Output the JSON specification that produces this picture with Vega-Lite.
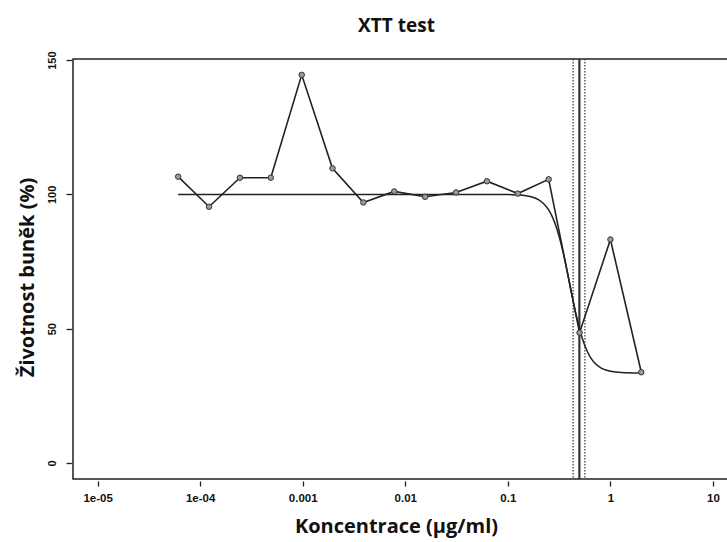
{
  "$schema": "https://vega.github.io/schema/vega-lite/v6.json",
  "autosize": {"type": "none"},
  "width": 655,
  "height": 420,
  "padding": {"left": 73, "top": 59, "right": -1, "bottom": 63},
  "background": "white",
  "title": {
    "text": "XTT test",
    "font": "Open Sans",
    "fontSize": 19,
    "fontWeight": "bold",
    "color": "#111",
    "anchor": "middle",
    "frame": "group",
    "baseline": "alphabetic",
    "offset": 0,
    "dx": -4
  },
  "config": {
    "view": {"stroke": "#222", "strokeWidth": 1.5}
  },
  "datasets": {
    "obs": [
      {"conc": 0.000061, "v": 106.6},
      {"conc": 0.000122, "v": 95.4},
      {"conc": 0.000244, "v": 106.2},
      {"conc": 0.000488, "v": 106.2},
      {"conc": 0.000977, "v": 144.5},
      {"conc": 0.00195, "v": 109.7},
      {"conc": 0.0039, "v": 97.0},
      {"conc": 0.0078, "v": 101.1},
      {"conc": 0.0156, "v": 99.1},
      {"conc": 0.03125, "v": 100.7},
      {"conc": 0.0625, "v": 104.9},
      {"conc": 0.125, "v": 100.3},
      {"conc": 0.25, "v": 105.6},
      {"conc": 0.5, "v": 48.5},
      {"conc": 1, "v": 83.2},
      {"conc": 2, "v": 33.8}
    ],
    "fit": [
      {"conc": 0.000061, "v": 100.0},
      {"conc": 0.001, "v": 100.0},
      {"conc": 0.01, "v": 100.0},
      {"conc": 0.05, "v": 99.99},
      {"conc": 0.1, "v": 99.93},
      {"conc": 0.125, "v": 99.8},
      {"conc": 0.15, "v": 99.51},
      {"conc": 0.175, "v": 98.95},
      {"conc": 0.2, "v": 97.98},
      {"conc": 0.225, "v": 96.46},
      {"conc": 0.25, "v": 94.21},
      {"conc": 0.275, "v": 91.15},
      {"conc": 0.3, "v": 87.24},
      {"conc": 0.325, "v": 82.62},
      {"conc": 0.35, "v": 77.46},
      {"conc": 0.375, "v": 72.07},
      {"conc": 0.4, "v": 66.75},
      {"conc": 0.425, "v": 61.75},
      {"conc": 0.45, "v": 57.23},
      {"conc": 0.475, "v": 53.29},
      {"conc": 0.5, "v": 49.91},
      {"conc": 0.55, "v": 44.74},
      {"conc": 0.6, "v": 41.24},
      {"conc": 0.65, "v": 38.89},
      {"conc": 0.7, "v": 37.32},
      {"conc": 0.8, "v": 35.52},
      {"conc": 0.9, "v": 34.63},
      {"conc": 1.0, "v": 34.17},
      {"conc": 1.2, "v": 33.77},
      {"conc": 1.4, "v": 33.63},
      {"conc": 1.7, "v": 33.55},
      {"conc": 2.0, "v": 33.52}
    ],
    "ec": [
      {"conc": 0.433, "kind": "ci"},
      {"conc": 0.498, "kind": "ec50"},
      {"conc": 0.564, "kind": "ci"}
    ]
  },
  "encoding": {
    "x": {
      "field": "conc",
      "type": "quantitative",
      "scale": {"type": "log", "domain": [0.000005754, 14.01], "nice": false},
      "axis": {
        "title": "Koncentrace (µg/ml)",
        "values": [0.00001, 0.0001, 0.001, 0.01, 0.1, 1, 10],
        "labelExpr": "datum.value < 5e-5 ? '1e-05' : datum.value < 5e-4 ? '1e-04' : datum.value < 5e-3 ? '0.001' : datum.value < 0.05 ? '0.01' : datum.value < 0.5 ? '0.1' : datum.value < 5 ? '1' : '10'",
        "grid": false,
        "domain": false,
        "ticks": true,
        "tickColor": "#222",
        "tickWidth": 1.3,
        "tickSize": 5,
        "offset": 2,
        "labelFont": "Liberation Sans",
        "labelFontSize": 11.5,
        "labelFontWeight": "bold",
        "labelColor": "#111",
        "labelPadding": 6,
        "labelFlush": false,
        "labelOverlap": false,
        "titleFont": "Open Sans",
        "titleFontSize": 20,
        "titleFontWeight": "bold",
        "titleColor": "#111",
        "titleX": 323,
        "titleY": 51,
        "titleAlign": "center",
        "titleBaseline": "alphabetic"
      }
    }
  },
  "layer": [
    {
      "data": {"name": "ec"},
      "mark": {"type": "rule", "color": "#333"},
      "encoding": {
        "strokeDash": {
          "field": "kind",
          "type": "nominal",
          "scale": {"domain": ["ci", "ec50"], "range": [[1.5, 1.5], [1, 0]]},
          "legend": null
        },
        "strokeWidth": {
          "field": "kind",
          "type": "nominal",
          "scale": {"domain": ["ci", "ec50"], "range": [1.2, 2.2]},
          "legend": null
        }
      }
    },
    {
      "data": {"name": "fit"},
      "mark": {"type": "line", "color": "#222", "strokeWidth": 1.5, "interpolate": "monotone"},
      "encoding": {
        "y": {
          "field": "v",
          "type": "quantitative",
          "scale": {"domain": [-5.95, 150.4], "nice": false, "zero": false},
          "axis": {
            "title": "Životnost buněk (%)",
            "values": [0, 50, 100, 150],
            "grid": false,
            "domain": false,
            "tickColor": "#222",
            "tickWidth": 1.3,
            "tickSize": 6,
            "offset": 1,
            "labelAngle": -90,
            "labelAlign": "center",
            "labelBaseline": "bottom",
            "labelFont": "Liberation Sans",
            "labelFontSize": 11,
            "labelFontWeight": "bold",
            "labelColor": "#111",
            "labelPadding": 9,
            "labelOverlap": false,
            "labelFlush": false,
            "titleFont": "Open Sans",
            "titleFontSize": 20,
            "titleFontWeight": "bold",
            "titleColor": "#111",
            "titleX": -39,
            "titleY": 218,
            "titleAngle": -90,
            "titleAlign": "center",
            "titleBaseline": "alphabetic"
          }
        }
      }
    },
    {
      "data": {"name": "obs"},
      "mark": {"type": "line", "color": "#222", "strokeWidth": 1.6},
      "encoding": {
        "y": {"field": "v", "type": "quantitative"}
      }
    },
    {
      "data": {"name": "obs"},
      "mark": {"type": "point", "shape": "circle", "filled": true, "size": 30, "fill": "#9a9a9a", "stroke": "#333", "strokeWidth": 1, "opacity": 1},
      "encoding": {
        "y": {"field": "v", "type": "quantitative"}
      }
    }
  ]
}
